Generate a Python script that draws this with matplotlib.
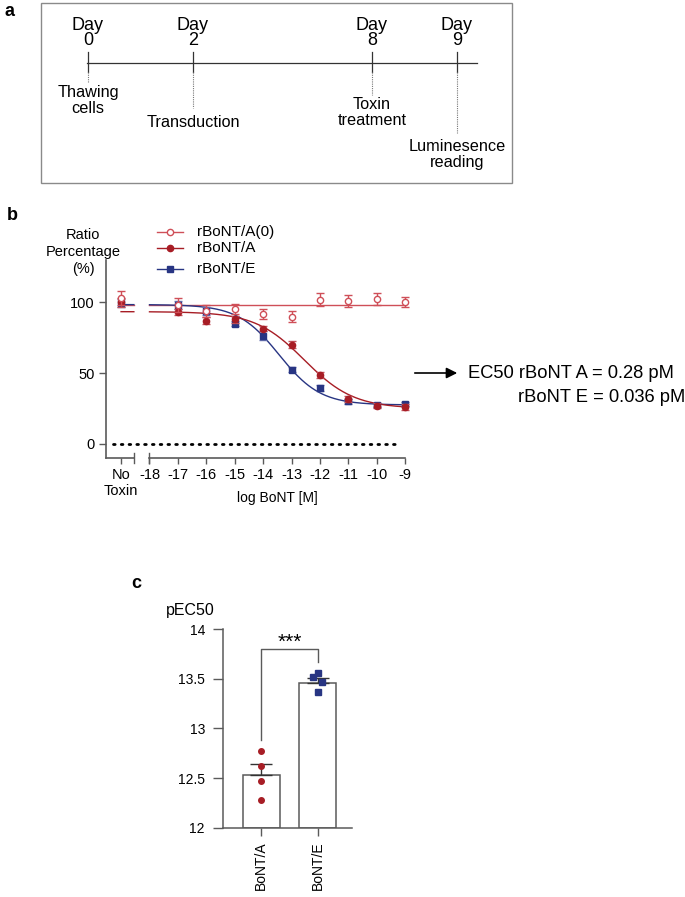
import matplotlib
matplotlib.use("Agg")
import matplotlib.pyplot as plt
import numpy as np

plt.rcParams['font.family'] = ['Liberation Sans', 'DejaVu Sans']

# ---- panel a: timeline ----
day_numbers = ["0", "2", "8", "9"]
event_labels = ["Thawing\ncells", "Transduction", "Toxin\ntreatment", "Luminesence\nreading"]

# ---- panel b: dose response ----
log_dose = [-17, -16, -15, -14, -13, -12, -11, -10, -9]
no_toxin_pos = -19
a0_mean = [103, 98, 94, 95.5, 91.5, 90, 102, 101, 102.5, 100]
a0_err = [5, 5, 4, 3.5, 3.5, 4, 4.5, 4, 4, 3.5]
a_mean = [100, 93, 87, 88, 81.5, 70, 48.5, 31.5, 27, 26]
a_err = [3, 2, 2.5, 2.5, 2, 2.5, 2, 2, 2, 2]
e_mean = [99.5, 98, 94, 85, 76.5, 52.5, 39.5, 30, 27.5, 28]
e_err = [3, 3, 3, 2, 3, 2, 2, 1.5, 1.5, 1.5]

# 4PL fit parameters: top, bottom, logEC50, hill
fit_a0 = (98.5, 98.5, -12.0, 1.0)
fit_a = (93.5, 25.0, -12.55, 0.5)
fit_e = (98.5, 27.5, -13.44, 0.6)

# ---- panel c: pEC50 ----
groups = ["BoNT/A", "BoNT/E"]
pec50_mean = [12.53, 13.46]
pec50_sem = [0.11, 0.05]
pec50_a_pts = [12.77, 12.62, 12.47, 12.28]
pec50_e_pts = [13.515, 13.555, 13.47, 13.37]
e_jitter = [-0.09, 0.0, 0.08, 0.0]

RED = '#a71d25'
RED_LIGHT = '#cf4f58'
BLUE = '#283583'
GREY = '#5a5a5a'

W, H = 685, 897
fig = plt.figure(figsize=(W / 100, H / 100), dpi=100)

def fpos(x0, y0, x1, y1):
    # pixel box -> figure fraction
    return [x0 / W, 1 - y1 / H, (x1 - x0) / W, (y1 - y0) / H]

# overlay axes in pixel coords for schematic + annotations
ov = fig.add_axes([0, 0, 1, 1])
ov.set_xlim(0, W)
ov.set_ylim(H, 0)
ov.axis('off')
ov.set_zorder(10)

# panel a
ov.add_patch(plt.Rectangle((41, 3), 471, 180, fill=False, ec='#8a8a8a', lw=1))
ov.plot([87, 477], [63, 63], color='#333333', lw=0.9)
tl_x = [88, 193, 372, 457]
tl_end = [82, 108, 95, 133]
ev_y = [93, 123, 105, 147]
for i in range(4):
    x = tl_x[i]
    ov.text(x, 33, "Day\n" + day_numbers[i], ha='center', va='center', fontsize=13, linespacing=0.82)
    ov.plot([x, x], [52, 72], color='#333333', lw=0.9)
    ov.plot([x, x], [72, tl_end[i]], color='#777777', lw=0.8, ls=(0, (1, 1)))
    ov.text(x, ev_y[i] - 8, event_labels[i], ha='center', va='top', fontsize=11.7, linespacing=1.05)

ov.text(5, 12, "a", fontsize=13, fontweight='bold', va='center')
ov.text(7, 215, "b", fontsize=13, fontweight='bold', va='center')
ov.text(131, 583, "c", fontsize=13, fontweight='bold', va='center')

# y-label panel b
ov.text(83, 252, "Ratio\nPercentage\n(%)", ha='center', va='center', fontsize=10.5, linespacing=1.25)

# legend panel b (manual)
leg = [("rBoNT/A(0)", RED_LIGHT, 'o', 'white', 232),
       ("rBoNT/A", RED, 'o', RED, 248),
       ("rBoNT/E", BLUE, 's', BLUE, 269)]
for name, c, m, fc, y in leg:
    ov.plot([157, 183], [y, y], color=c, lw=1)
    ov.plot([170], [y], marker=m, ms=4.5, mfc=fc, mec=c, mew=1, color=c)
    ov.text(197, y, name, va='center', fontsize=11)

# EC50 annotation
ov.annotate("", xy=(460, 373), xytext=(412, 373),
            arrowprops=dict(arrowstyle='-|>', color='black', lw=1.2, mutation_scale=16))
ov.text(468, 373, "EC50 rBoNT A = 0.28 pM", va='center', fontsize=13.2)
ov.text(518, 397, "rBoNT E = 0.036 pM", va='center', fontsize=13.2)

# panel c y-label
ov.text(190, 610, "pEC50", ha='center', va='center', fontsize=11.5)

# ---- panel b axes ----
ax = fig.add_axes(fpos(106, 260, 411, 458))
ax.set_xlim(-19.53, -8.8)
ax.set_ylim(-10, 130)
ax.patch.set_visible(False)
for s in ['top', 'right', 'bottom']:
    ax.spines[s].set_visible(False)
ax.spines['left'].set_color(GREY)
ax.spines['left'].set_linewidth(1.2)

def fourpl(x, p):
    top, bottom, logec, hill = p
    return bottom + (top - bottom) / (1 + 10 ** ((np.asarray(x) - logec) * hill))

brk = -18.55
xs1 = np.linspace(no_toxin_pos, brk, 10)
xs2 = np.linspace(-18, -9, 300)
for p, c in [(fit_a0, RED_LIGHT), (fit_e, BLUE), (fit_a, RED)]:
    ax.plot(xs1, fourpl(xs1, p), color=c, lw=1, clip_on=False)
    ax.plot(xs2, fourpl(xs2, p), color=c, lw=1, clip_on=False)

xall = [no_toxin_pos] + log_dose
ax.errorbar(xall, e_mean, yerr=e_err, fmt='s', ms=4.5, color=BLUE, mfc=BLUE, mec=BLUE,
            ecolor='#6a74b0', elinewidth=1, capsize=3, capthick=1, clip_on=False, zorder=3)
ax.errorbar(xall, a_mean, yerr=a_err, fmt='o', ms=4.5, color=RED, mfc=RED, mec=RED,
            ecolor='#c0505a', elinewidth=1, capsize=3, capthick=1, clip_on=False, zorder=4)
ax.errorbar(xall, a0_mean, yerr=a0_err, fmt='o', ms=4.5, color=RED_LIGHT, mfc='white', mec=RED_LIGHT,
            ecolor=RED_LIGHT, elinewidth=1, mew=1, capsize=3, capthick=1, clip_on=False, zorder=5)

ax.plot([-19.3, -9.3], [0, 0], color='black', lw=2, ls=(0, (0.6, 2.2)), dash_capstyle='round')

# broken x axis
ax.plot([-19.53, brk], [-10, -10], color=GREY, lw=1.2, clip_on=False)
ax.plot([-18, -9], [-10, -10], color=GREY, lw=1.2, clip_on=False)
for xb in [brk, -18]:
    ax.plot([xb, xb], [-13.5, -6.5], color=GREY, lw=1, clip_on=False)

ax.set_yticks([0, 50, 100])
ax.set_xticks([no_toxin_pos] + list(range(-18, -8)))
ax.set_xticklabels(["No\nToxin"] + [str(v) for v in range(-18, -8)])
ax.tick_params(axis='y', length=5, width=1, color=GREY, labelsize=10.5, pad=3)
ax.tick_params(axis='x', length=4, width=1, color=GREY, labelsize=10.5, pad=3)
ax.text(-13.5, -38, "log BoNT [M]", ha='center', va='center', fontsize=10)

# ---- panel c axes ----
axc = fig.add_axes(fpos(223, 629, 352, 827.7))
axc.set_xlim(-0.67, 1.6)
axc.set_ylim(12, 14)
for s in ['top', 'right']:
    axc.spines[s].set_visible(False)
for s in ['left', 'bottom']:
    axc.spines[s].set_color(GREY)
    axc.spines[s].set_linewidth(1.1)

xc = np.arange(len(groups))
axc.bar(xc, np.array(pec50_mean) - 12, bottom=12, width=0.65, color='white', edgecolor=GREY, lw=1.1, zorder=2)
axc.errorbar(xc, pec50_mean, yerr=[[0, 0], pec50_sem], fmt='none', ecolor='#333333',
             elinewidth=1, capsize=8, capthick=1, zorder=3)
axc.plot(np.zeros(len(pec50_a_pts)), pec50_a_pts, 'o', ms=4, color=RED, zorder=4)
axc.plot(1 + np.array(e_jitter), pec50_e_pts, 's', ms=4.5, color=BLUE, zorder=4)

# significance bracket
axc.plot([0, 0, 1, 1], [12.88, 13.80, 13.80, 13.67], color=GREY, lw=1, clip_on=False)
axc.text(0.5, 13.87, "***", ha='center', va='center', fontsize=15)

axc.set_yticks([12, 12.5, 13, 13.5, 14])
axc.set_yticklabels(["12", "12.5", "13", "13.5", "14"])
axc.set_xticks(xc)
axc.set_xticklabels(groups, rotation=90)
axc.tick_params(axis='y', length=7, width=1, color=GREY, labelsize=10, pad=6)
axc.tick_params(axis='x', length=6, width=1, color=GREY, labelsize=10, pad=4)

fig.savefig("out.png", dpi=100)
